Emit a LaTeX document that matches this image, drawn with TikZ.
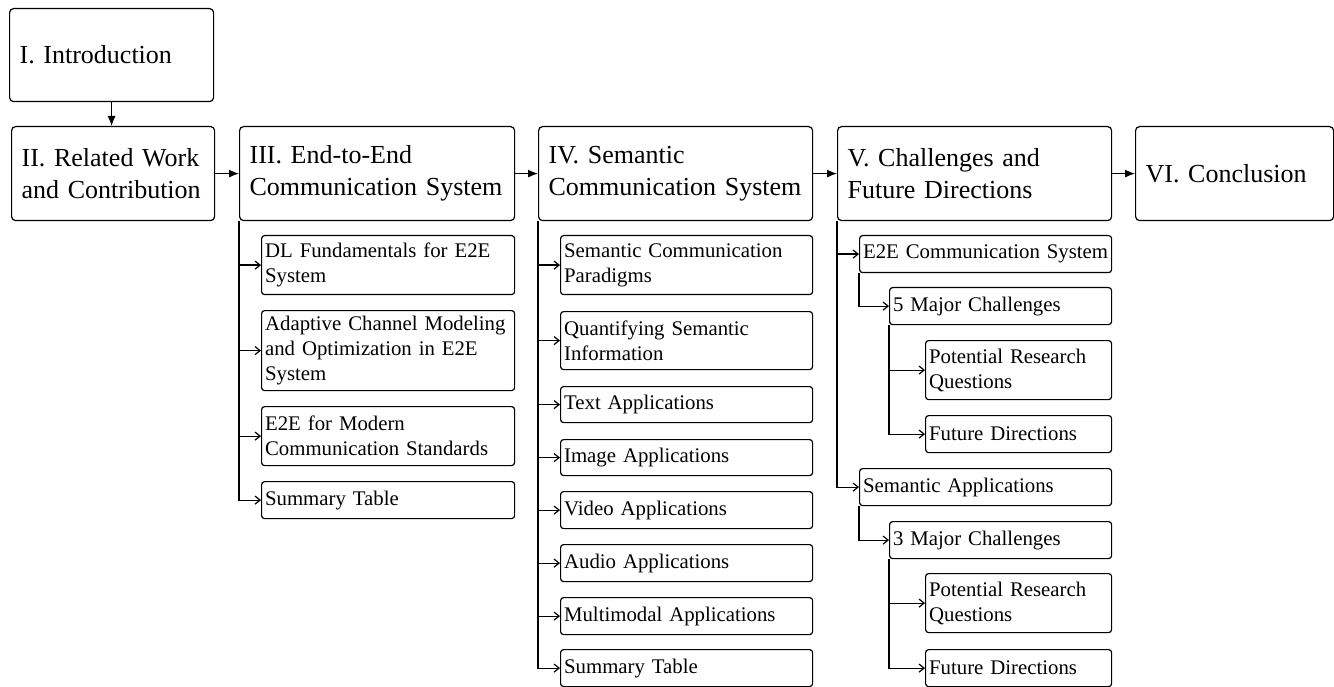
\documentclass[tikz,border=0pt]{standalone}
\usepackage{fontspec}
\setmainfont{Liberation Serif}
\usetikzlibrary{arrows.meta}
\tikzset{
  secbox/.style={draw, line width=1.2pt, rounded corners=4pt, anchor=north west, inner xsep=10pt, inner ysep=0pt,
    minimum height=94pt, align=left, font=\fontsize{26}{32}\selectfont},
  subbox/.style={draw, line width=1.2pt, rounded corners=3pt, anchor=north west, inner xsep=3.5pt, inner ysep=0pt,
    align=left, font=\fontsize{20.8}{25}\selectfont},
  mainarr/.style={line width=1.2pt, -{Latex[length=10pt,width=8pt]}},
  subarr/.style={line width=1.2pt, -{Straight Barb[length=5pt,width=8pt]}}
}
\begin{document}
\begin{tikzpicture}[x=1pt,y=-1pt]
    \useasboundingbox (0,0) rectangle (1334,687);
    \node[secbox, text width=184pt, minimum height=93pt] (intro) at (9,8) {I. Introduction};
    \node[secbox, text width=183pt] (rel) at (11,126) {II. Related Work\\and Contribution};
    \node[secbox, text width=255pt] (e2e) at (239,126) {III. End-to-End\\Communication System};
    \node[secbox, text width=254pt] (sem) at (538,126) {IV. Semantic\\Communication System};
    \node[secbox, text width=254pt] (chal) at (837,126) {V. Challenges and\\Future Directions};
    \node[secbox, text width=178pt] (conc) at (1135,126) {VI. Conclusion};
    \draw[mainarr] (intro.south) -- (intro.south |- rel.north);
    \draw[mainarr] (rel.east) -- (e2e.west);
    \draw[mainarr] (e2e.east) -- (sem.west);
    \draw[mainarr] (sem.east) -- (chal.west);
    \draw[mainarr] (chal.east) -- (conc.west);
    \node[subbox, text width=246pt, minimum height=59pt] (e2ea) at (261,235) {DL Fundamentals for E2E\\System};
    \node[subbox, text width=246pt, minimum height=80pt] (e2eb) at (261,310) {Adaptive Channel Modeling\\and Optimization in E2E\\System};
    \node[subbox, text width=246pt, minimum height=59pt] (e2ec) at (261,406) {E2E for Modern\\Communication Standards};
    \node[subbox, text width=246pt, minimum height=37pt] (e2ed) at (261,481) {Summary Table};
    \draw[subarr] (e2e.south west) |- (e2ea.west);
    \draw[subarr] (e2e.south west) |- (e2eb.west);
    \draw[subarr] (e2e.south west) |- (e2ec.west);
    \draw[subarr] (e2e.south west) |- (e2ed.west);
    \node[subbox, text width=245pt, minimum height=59pt] (sema) at (560,235) {Semantic Communication\\Paradigms};
    \node[subbox, text width=245pt, minimum height=58pt] (semb) at (560,311) {Quantifying Semantic\\Information};
    \node[subbox, text width=245pt, minimum height=36pt] (semc) at (560,386) {Text Applications};
    \node[subbox, text width=245pt, minimum height=36pt] (semd) at (560,439) {Image Applications};
    \node[subbox, text width=245pt, minimum height=37pt] (seme) at (560,491) {Video Applications};
    \node[subbox, text width=245pt, minimum height=37pt] (semf) at (560,544) {Audio Applications};
    \node[subbox, text width=245pt, minimum height=37pt] (semg) at (560,597) {Multimodal Applications};
    \node[subbox, text width=245pt, minimum height=37pt] (semh) at (560,649) {Summary Table};
    \draw[subarr] (sem.south west) |- (sema.west);
    \draw[subarr] (sem.south west) |- (semb.west);
    \draw[subarr] (sem.south west) |- (semc.west);
    \draw[subarr] (sem.south west) |- (semd.west);
    \draw[subarr] (sem.south west) |- (seme.west);
    \draw[subarr] (sem.south west) |- (semf.west);
    \draw[subarr] (sem.south west) |- (semg.west);
    \draw[subarr] (sem.south west) |- (semh.west);
    \node[subbox, text width=245pt, minimum height=37pt] (chala) at (859,235) {E2E Communication System};
    \node[subbox, text width=215pt, minimum height=37pt] (chalb) at (889,287) {5 Major Challenges};
    \node[subbox, text width=179pt, minimum height=59pt] (chalc) at (925,340) {Potential Research\\Questions};
    \node[subbox, text width=179pt, minimum height=37pt] (chald) at (925,415) {Future Directions};
    \node[subbox, text width=245pt, minimum height=37pt] (chale) at (859,468) {Semantic Applications};
    \node[subbox, text width=215pt, minimum height=37pt] (chalf) at (889,521) {3 Major Challenges};
    \node[subbox, text width=179pt, minimum height=59pt] (chalg) at (925,573) {Potential Research\\Questions};
    \node[subbox, text width=179pt, minimum height=37pt] (chalh) at (925,649) {Future Directions};
    \draw[subarr] (chal.south west) |- (chala.west);
    \draw[subarr] (chal.south west) |- (chale.west);
    \draw[subarr] (chala.south west) |- (chalb.west);
    \draw[subarr] (chalb.south west) |- (chalc.west);
    \draw[subarr] (chalb.south west) |- (chald.west);
    \draw[subarr] (chale.south west) |- (chalf.west);
    \draw[subarr] (chalf.south west) |- (chalg.west);
    \draw[subarr] (chalf.south west) |- (chalh.west);
\end{tikzpicture}
\end{document}
